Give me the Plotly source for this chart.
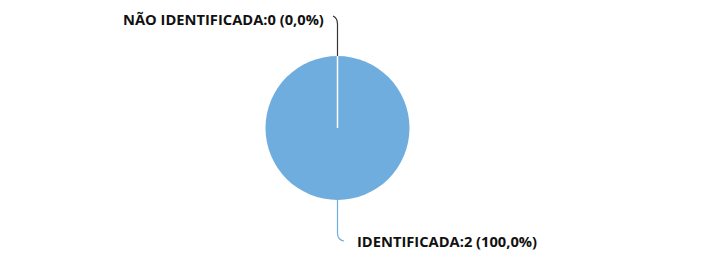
import plotly.graph_objects as go

labels = ["NÃO IDENTIFICADA", "IDENTIFICADA"]
values = [0, 2]
colors = ["#4a4a4a", "#6FADDF"]

W, H = 712, 257
OX, OY = 8, 8  # page body margin offset
cx, cy, r = 337.5, 128, 72

def px(x):
    return (x - OX) / W

def py(y):
    return 1 - (y - OY) / H

total = sum(values)
texts = [f"{l}:{v} ({v / total * 100:.1f}%)".replace(".", ",") for l, v in zip(labels, values)]

fig = go.Figure(go.Pie(
    labels=labels, values=values, sort=False, direction="clockwise", rotation=0,
    marker=dict(colors=colors, line=dict(color="white", width=0)),
    textinfo="none", hoverinfo="none", showlegend=False,
    domain=dict(x=[px(cx - r), px(cx + r)], y=[py(cy + r), py(cy - r)]),
))

shapes = [
    dict(type="line", xref="paper", yref="paper", x0=px(cx), y0=py(cy), x1=px(cx), y1=py(cy - r),
         line=dict(color="white", width=1.5)),
    dict(type="path", xref="paper", yref="paper",
         path=f"M {px(cx)},{py(cy - r)} L {px(cx)},{py(24)} Q {px(cx)},{py(18)} {px(333)},{py(16)}",
         line=dict(color="#333333", width=1.2)),
    dict(type="path", xref="paper", yref="paper",
         path=f"M {px(cx)},{py(cy + r)} L {px(cx)},{py(233)} Q {px(cx)},{py(240)} {px(344)},{py(241)}",
         line=dict(color=colors[1], width=1.2)),
]

font = dict(family="Open Sans", size=14.7, color="#111111", weight="bold")
annotations = [
    dict(text=texts[0], x=px(326), y=py(19), xref="paper", yref="paper", xanchor="right", yanchor="middle",
         showarrow=False, font=font),
    dict(text=texts[1], x=px(355), y=py(241), xref="paper", yref="paper", xanchor="left", yanchor="middle",
         showarrow=False, font=font),
]

fig.update_layout(
    width=W, height=H, margin=dict(l=0, r=0, t=0, b=0),
    paper_bgcolor="white", plot_bgcolor="white",
    shapes=shapes, annotations=annotations,
)

fig.write_html("out.html")
